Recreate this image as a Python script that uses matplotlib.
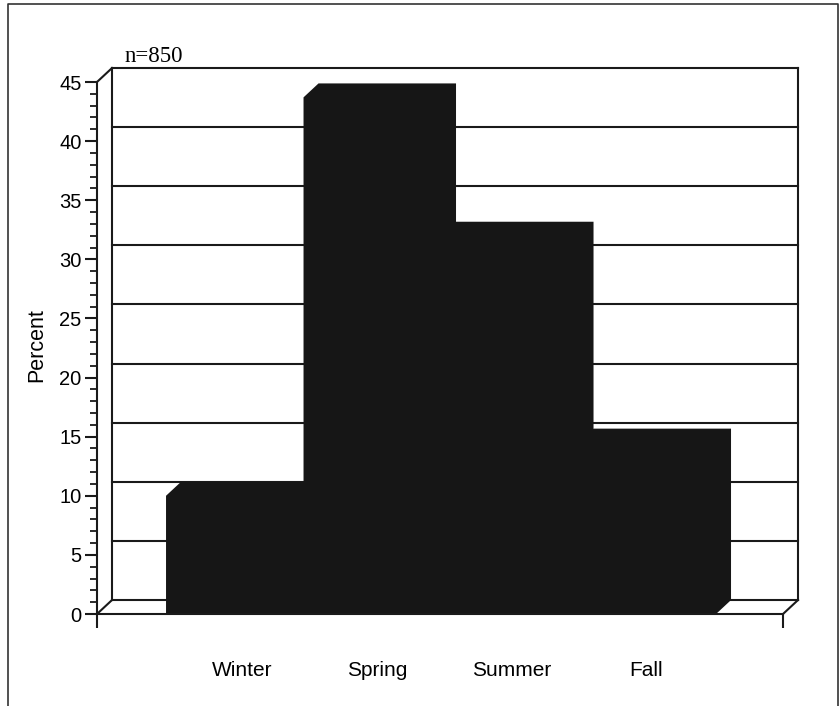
import matplotlib
matplotlib.use("Agg")
import matplotlib.pyplot as plt
from matplotlib.patches import Polygon
from matplotlib.lines import Line2D

seasons = ["Winter", "Spring", "Summer", "Fall"]
percent = [10.0, 43.7, 32.0, 14.5]
n_label = "n=850"

W, H = 839, 706
fig = plt.figure(figsize=(W / 100, H / 100), dpi=100)
plt.rcParams["font.family"] = ["Liberation Sans", "DejaVu Sans"]

# front plane of the pseudo 3d box, in pixels
x0, x1, y0, y1 = 97, 783, 614, 82
ax = fig.add_axes([x0 / W, (H - y0) / H, (x1 - x0) / W, (y0 - y1) / H])

xmin, xmax = -0.502, 4.487
ax.set_xlim(xmin, xmax)
ax.set_ylim(0, 45)

# depth offset (data units)
DX, DY = 0.109, 1.18
lc = "#1a1a1a"
lw = 1.5

# back wall with gridlines
for k in range(0, 50, 5):
    ax.plot([xmin + DX, xmax + DX], [k + DY, k + DY], color=lc, lw=lw,
            clip_on=False, zorder=1)
for xx in (xmin + DX, xmax + DX):
    ax.plot([xx, xx], [DY, 45 + DY], color=lc, lw=lw, clip_on=False, zorder=1)

# left wall / floor edges
ax.plot([xmin, xmin + DX], [45, 45 + DY], color=lc, lw=lw, clip_on=False)
ax.plot([xmin, xmin + DX], [0, DY], color=lc, lw=lw, clip_on=False)
ax.plot([xmax, xmax + DX], [0, DY], color=lc, lw=lw, clip_on=False)

# bars (silhouette of front, top and side faces)
for i, v in enumerate(percent):
    pts = [(i, 0), (i, v), (i + DX, v + DY), (i + 1 + DX, v + DY),
           (i + 1 + DX, DY), (i + 1, 0)]
    ax.add_patch(Polygon(pts, closed=True, facecolor="#161616",
                         edgecolor="none", zorder=3, clip_on=False))

for s in ("top", "right"):
    ax.spines[s].set_visible(False)
for s in ("left", "bottom"):
    ax.spines[s].set_linewidth(lw)
    ax.spines[s].set_color(lc)
    ax.spines[s].set_zorder(4)

ax.set_yticks(range(0, 50, 5))
ax.set_yticks(range(0, 46), minor=True)
ax.tick_params(axis="y", which="major", length=9, width=1.5, pad=2,
               labelsize=14.5, color=lc)
ax.tick_params(axis="y", which="minor", length=5, width=1.3, color=lc)

label_pos = [0.553 + 0.98 * i for i in range(len(seasons))]
ax.set_xticks(label_pos)
ax.set_xticklabels(seasons)
ax.set_xticks([xmin, xmax], minor=True)
ax.tick_params(axis="x", which="major", length=0, pad=34, labelsize=15)
ax.tick_params(axis="x", which="minor", length=10, width=1.5, color=lc)
ax.set_facecolor("none")

fig.text(37 / W, 1 - 345 / H, "Percent", rotation=90, ha="center",
         va="center", fontsize=15.5)
fig.text(125 / W, 1 - 62 / H, n_label, ha="left", va="baseline",
         fontsize=16.5, family=["Liberation Serif", "DejaVu Serif"])

# outer frame
fig.add_artist(Line2D([8 / W, 8 / W, 837.5 / W, 837.5 / W],
                      [0, 1 - 4 / H, 1 - 4 / H, 0], color="#333333",
                      lw=1.2, transform=fig.transFigure))

fig.savefig("out.png", dpi=100)
